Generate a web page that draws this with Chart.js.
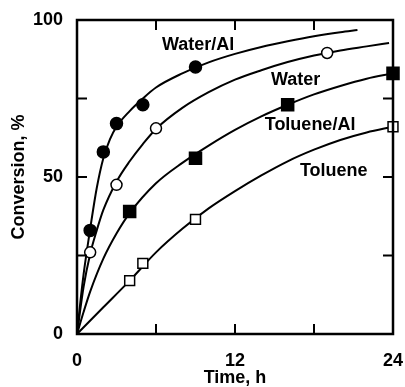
<!DOCTYPE html>
<html>
<head>
<meta charset="utf-8">
<script src="https://cdn.jsdelivr.net/npm/chart.js@4"></script>
<style>
  html, body { margin: 0; padding: 0; background: #fff; }
  #wrap { width: 405px; height: 387px; }
</style>
</head>
<body>
<div id="wrap"><canvas id="convChart" width="405" height="387"></canvas></div>
<script>
// measured points (time in h, conversion in %)
var waterAlT = [1, 2, 3, 5, 9];
var waterAlY = [33, 58, 67, 73, 85];
var waterT = [1, 3, 6, 19];
var waterY = [26, 47.5, 65.5, 89.5];
var tolAlT = [4, 9, 16, 24];
var tolAlY = [39, 56, 73, 83];
var tolT = [4, 5, 9, 24];
var tolY = [17, 22.5, 36.5, 66];

// fitted curves read along their length
var fitWaterAlT = [0, 0.25, 0.5, 0.75, 1, 1.5, 2, 2.5, 3, 4, 5, 6, 8, 10, 12, 14, 16, 18, 20, 21.3];
var fitWaterAlY = [0, 10, 19, 26.5, 33.5, 46.5, 56, 62, 66, 71, 75, 78.5, 83, 86.5, 89.2, 91.4, 93.2, 94.8, 96.1, 96.8];
var fitWaterT = [0, 0.5, 1, 1.5, 2, 3, 4, 5, 6, 8, 10, 12, 14, 16, 18, 20, 22, 23.7];
var fitWaterY = [0, 15, 25.5, 33, 39.5, 48.5, 55, 60.5, 65.3, 72, 77, 81, 84, 86.6, 88.7, 90.3, 91.6, 92.7];
var fitTolAlT = [0, 0.5, 1, 2, 3, 4, 6, 8, 10, 12, 14, 16, 18, 20, 22, 24];
var fitTolAlY = [0, 7, 13.5, 24, 32, 38.5, 48, 54.5, 60, 65, 69.3, 73, 76.3, 79, 81.3, 83];
var fitTolT = [0, 2, 4, 6, 8, 10, 12, 14, 16, 18, 20, 22, 24];
var fitTolY = [0, 8.5, 17, 26, 33.5, 40, 45.5, 50.5, 55, 58.7, 61.8, 64.2, 66];

// series labels and where they sit (data coords)
var seriesNames = ['Water/Al', 'Water', 'Toluene/Al', 'Toluene'];
var nameT = [9.2, 16.6, 17.7, 19.5];
var nameY = [92, 81, 66.5, 52];

var xTickLabels = ['0', '12', '24'];
var yTickLabels = ['0', '50', '100'];

function pts(xs, ys) {
    return xs.map(function(x, i) { return { x: x, y: ys[i] }; });
}

function curve(xs, ys) {
    return {
        data: pts(xs, ys),
        showLine: true,
        borderColor: '#000',
        borderWidth: 2,
        pointRadius: 0,
        cubicInterpolationMode: 'monotone',
        fill: false,
        clip: false,
        order: 2
    };
}

function marks(xs, ys, style, filled, r) {
    return {
        data: pts(xs, ys),
        showLine: false,
        pointStyle: style,
        pointRadius: r,
        pointBackgroundColor: filled ? '#000' : '#fff',
        pointBorderColor: '#000',
        pointBorderWidth: 1.5,
        clip: false,
        order: 1
    };
}

var font = 'Liberation Sans, Arial, Helvetica, sans-serif';

// frame, inward ticks and curve names
var decor = {
    id: 'decor',
    afterDraw: function(chart) {
        var c = chart.ctx, xs = chart.scales.x, ys = chart.scales.y;
        var a = chart.chartArea;
        c.save();
        c.strokeStyle = '#000';
        c.lineWidth = 2.5;
        c.strokeRect(a.left, a.top, a.right - a.left, a.bottom - a.top);
        c.lineWidth = 2;
        [6, 12, 18].forEach(function(t) {
            var px = xs.getPixelForValue(t);
            c.beginPath();
            c.moveTo(px, a.bottom); c.lineTo(px, a.bottom - 10);
            c.moveTo(px, a.top); c.lineTo(px, a.top + 10);
            c.stroke();
        });
        [25, 50, 75].forEach(function(v) {
            var py = ys.getPixelForValue(v);
            c.beginPath();
            c.moveTo(a.left, py); c.lineTo(a.left + 10, py);
            c.moveTo(a.right, py); c.lineTo(a.right - 10, py);
            c.stroke();
        });
        c.fillStyle = '#000';
        c.font = 'bold 18px ' + font;
        c.textAlign = 'center';
        c.textBaseline = 'middle';
        seriesNames.forEach(function(n, i) {
            c.fillText(n, xs.getPixelForValue(nameT[i]), ys.getPixelForValue(nameY[i]));
        });
        c.restore();
    }
};

new Chart(document.getElementById('convChart').getContext('2d'), {
    type: 'scatter',
    data: {
        datasets: [
            curve(fitWaterAlT, fitWaterAlY),
            curve(fitWaterT, fitWaterY),
            curve(fitTolAlT, fitTolAlY),
            curve(fitTolT, fitTolY),
            marks(waterAlT, waterAlY, 'circle', true, 6),
            marks(waterT, waterY, 'circle', false, 5.5),
            marks(tolAlT, tolAlY, 'rect', true, 8.5),
            marks(tolT, tolY, 'rect', false, 7)
        ]
    },
    options: {
        responsive: false,
        animation: false,
        layout: { padding: { top: 20, right: 12, left: 0, bottom: 0 } },
        plugins: { legend: { display: false }, tooltip: { enabled: false } },
        scales: {
            x: {
                type: 'linear',
                min: 0, max: 24,
                afterFit: function(s) {
                    s.height = 53;
                    s.paddingLeft = 0;
                    s.paddingRight = 0;
                },
                grid: { display: false, drawTicks: false },
                border: { display: false },
                ticks: {
                    stepSize: 12,
                    padding: 16,
                    color: '#000',
                    font: { family: font, size: 18, weight: 'bold' },
                    callback: function(v) { return xTickLabels[v / 12]; }
                },
                title: {
                    display: true,
                    text: 'Time, h',
                    color: '#000',
                    padding: { top: 0, bottom: 0 },
                    font: { family: font, size: 18, weight: 'bold', lineHeight: 1 }
                }
            },
            y: {
                min: 0, max: 100,
                afterFit: function(s) {
                    s.width = 77;
                    s.paddingTop = 0;
                    s.paddingBottom = 0;
                },
                grid: { display: false, drawTicks: false },
                border: { display: false },
                ticks: {
                    stepSize: 50,
                    padding: 14,
                    color: '#000',
                    font: { family: font, size: 18, weight: 'bold' },
                    callback: function(v) { return yTickLabels[v / 50]; }
                },
                title: {
                    display: true,
                    text: 'Conversion, %',
                    color: '#000',
                    padding: { top: 10, bottom: 0 },
                    font: { family: font, size: 18, weight: 'bold', lineHeight: 1 }
                }
            }
        }
    },
    plugins: [decor]
});
</script>
</body>
</html>
